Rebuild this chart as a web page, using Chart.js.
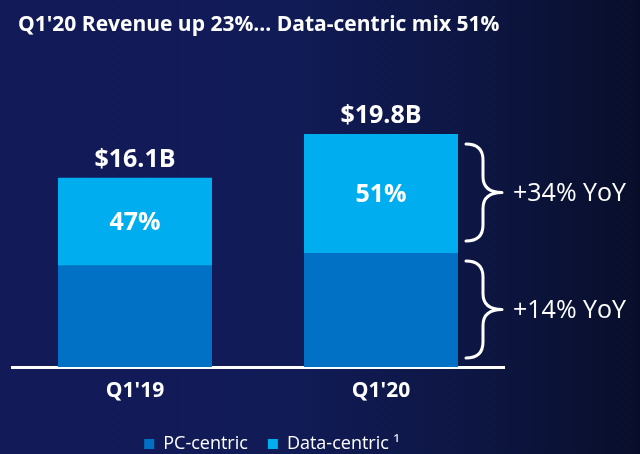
<!DOCTYPE html>
<html><head><meta charset="utf-8">
<script src="https://cdn.jsdelivr.net/npm/chart.js@4"></script>
<style>html,body{margin:0;padding:0;background:#0e1648;} canvas{display:block}</style>
</head><body>
<canvas id="c" width="640" height="454"></canvas>
<script>
const categories = ["Q1'19", "Q1'20"];
const pcCentric = [8.6, 9.7];
const dataCentric = [7.5, 10.1];
const totalLabels = ['$16.1B', '$19.8B'];
const dataCentricShare = ['47%', '51%'];
const growthLabels = ['+14% YoY', '+34% YoY']; // PC-centric, Data-centric
const seriesNames = ['PC-centric', 'Data-centric ¹'];
const titleText = "Q1'20 Revenue up 23%... Data-centric mix 51%";

const FONT = "'Open Sans', 'DejaVu Sans', sans-serif";

function brace(ctx, xL, xM, xTip, y1, y2) {
  const ym = (y1 + y2) / 2, r = 16;
  ctx.beginPath();
  ctx.moveTo(xL, y1);
  ctx.quadraticCurveTo(xM, y1, xM, y1 + r);
  ctx.lineTo(xM, ym - r);
  ctx.quadraticCurveTo(xM, ym, xTip, ym);
  ctx.quadraticCurveTo(xM, ym, xM, ym + r);
  ctx.lineTo(xM, y2 - r);
  ctx.quadraticCurveTo(xM, y2, xL, y2);
  ctx.stroke();
}

const bgPlugin = {
  id: 'bg',
  beforeDraw(chart) {
    const {ctx, width, height} = chart;
    const g = ctx.createLinearGradient(0, 0, width, 0);
    g.addColorStop(0, '#121a58');
    g.addColorStop(0.45, '#111b56');
    g.addColorStop(0.75, '#0d1642');
    g.addColorStop(1, '#080e2a');
    ctx.save();
    ctx.fillStyle = g;
    ctx.fillRect(0, 0, width, height);
    ctx.restore();
  },
  afterLayout(chart) {
    if (chart.titleBlock) { chart.titleBlock.left += 6; chart.titleBlock.right += 6; }
    if (chart.legend) { chart.legend.left += 14; chart.legend.right += 14; }
  }
};

const labelPlugin = {
  id: 'labels',
  afterDatasetsDraw(chart) {
    const {ctx} = chart;
    const xs = chart.scales.x, ys = chart.scales.y;
    ctx.save();
    ctx.fillStyle = '#ffffff';
    ctx.textAlign = 'center';
    ctx.textBaseline = 'middle';
    categories.forEach((c, i) => {
      const x = xs.getPixelForValue(i);
      const total = pcCentric[i] + dataCentric[i];
      ctx.font = 'bold 25px ' + FONT;
      ctx.fillText(totalLabels[i], x, ys.getPixelForValue(total) - 18);
      ctx.fillText(dataCentricShare[i], x, ys.getPixelForValue(pcCentric[i] + dataCentric[i] / 2) + 1);
    });
    // braces on the latest quarter
    const last = categories.length - 1;
    const el = chart.getDatasetMeta(1).data[last];
    const right = el.x + el.width / 2;
    const xL = right + 8, xM = right + 25, xTip = right + 44;
    const base = ys.getPixelForValue(0);
    const split = ys.getPixelForValue(pcCentric[last]);
    const top = ys.getPixelForValue(pcCentric[last] + dataCentric[last]);
    ctx.strokeStyle = '#ffffff';
    ctx.lineWidth = 3;
    ctx.lineCap = 'round';
    ctx.lineJoin = 'round';
    brace(ctx, xL, xM, xTip, top + 10, split - 12);
    brace(ctx, xL, xM, xTip, split + 8, base - 9);
    ctx.textAlign = 'left';
    ctx.font = '25px ' + FONT;
    ctx.fillText(growthLabels[1], xTip + 11, (top + 10 + split - 12) / 2 + 1);
    ctx.fillText(growthLabels[0], xTip + 11, (split + 8 + base - 9) / 2 + 1);
    ctx.restore();
  }
};

new Chart(document.getElementById('c'), {
  type: 'bar',
  data: {
    labels: categories,
    datasets: [
      {label: seriesNames[0], data: pcCentric, backgroundColor: '#0071C5', stack: 's'},
      {label: seriesNames[1], data: dataCentric, backgroundColor: '#00AEEF', stack: 's'}
    ]
  },
  options: {
    responsive: false,
    animation: false,
    devicePixelRatio: 1,
    layout: {padding: {left: 12, right: 136, top: 0, bottom: -9}},
    datasets: {bar: {categoryPercentage: 1, barPercentage: 0.626}},
    scales: {
      x: {
        stacked: true,
        grid: {display: false, drawTicks: false},
        border: {display: true, color: '#ffffff', width: 3},
        ticks: {color: '#ffffff', font: {family: FONT, weight: 'bold', size: 21}, padding: 11},
        afterFit: s => { s.height = 48; }
      },
      y: {stacked: true, display: false, min: 0, max: 26}
    },
    plugins: {
      title: {
        display: true, text: titleText, align: 'start', color: '#ffffff',
        font: {family: FONT, weight: 'bold', size: 21}, padding: {top: 12, bottom: 24}
      },
      legend: {
        position: 'bottom',
        labels: {color: '#ffffff', font: {family: FONT, size: 18}, boxWidth: 10, boxHeight: 10, padding: 20}
      },
      tooltip: {enabled: false}
    }
  },
  plugins: [bgPlugin, labelPlugin]
});
</script>
</body></html>
